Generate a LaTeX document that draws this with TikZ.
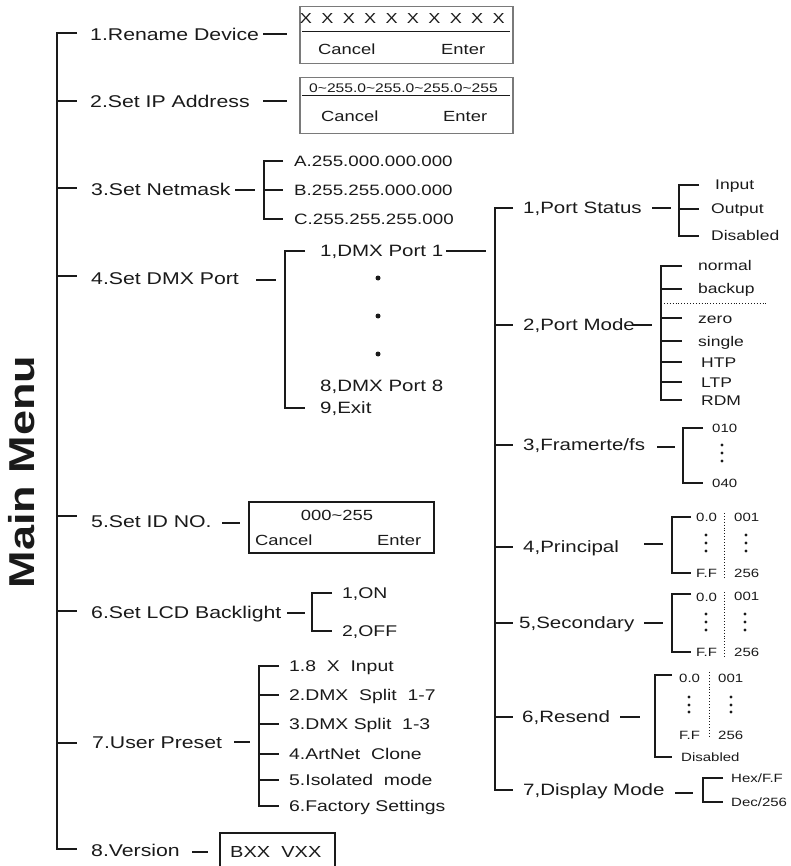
\documentclass[tikz,border=0pt]{standalone}
\usepackage{fontspec}
\setmainfont[FakeStretch=1.25]{Liberation Sans}
\usetikzlibrary{positioning,calc}
\definecolor{ink}{HTML}{1A1A1A}
\definecolor{frame}{HTML}{7A7A7A}
\tikzset{
  menu/.style={anchor=west,inner sep=0pt,text=ink,font=\fontsize{17}{20}\selectfont,text height=12.2pt,text depth=0pt},
  sub/.style={menu,font=\fontsize{16.4}{19}\selectfont,text height=11.7pt},
  opt/.style={menu,font=\fontsize{15.5}{18}\selectfont,text height=11.1pt},
  leaf/.style={menu,font=\fontsize{14}{17}\selectfont,text height=10pt},
  btext/.style={menu,font=\fontsize{14.7}{17}\selectfont,text height=10.5pt},
  tiny/.style={menu,font=\fontsize{12}{14}\selectfont,text height=8.6pt},
  xmark/.style={tiny,anchor=center,font=\fontsize{14.5}{17}\selectfont,text height=10.4pt},
  title/.style={inner sep=0pt,text=ink,font=\fontsize{36}{40}\selectfont\bfseries,text height=26pt,text depth=0pt},
  wire/.style={draw=ink,line width=1.8pt},
  lcd/.style={draw=frame,line width=1.5pt,inner sep=0pt,anchor=north west},
  lcdblack/.style={lcd,draw=ink},
  sepline/.style={draw=ink,line width=1pt},
  dotline/.style={draw=ink,line width=0.9pt,dotted},
  pip/.style={fill=ink}
}

\begin{document}
\begin{tikzpicture}[x=1pt,y=-1pt]
  \useasboundingbox (0,0) rectangle (791,866);

  \node[title,rotate=90] (title) at (21,472) {Main Menu};

  % main menu
  \node[menu] (m1) at (90,34) {1.Rename Device};
  \node[menu] (m2) at (90,101) {2.Set IP Address};
  \node[menu] (m3) at (91,189) {3.Set Netmask};
  \node[menu] (m4) at (91,278) {4.Set DMX Port};
  \node[menu] (m5) at (91,521) {5.Set ID NO.};
  \node[menu] (m6) at (91,612) {6.Set LCD Backlight};
  \node[menu] (m7) at (92,742) {7.User Preset};
  \node[menu] (m8) at (91,850) {8.Version};
  \draw[wire] (77,33) -- (57,33) -- (57,849) -- (77,849);
  \foreach \y in {101,188,276,516,611,743}
    \draw[wire] (57,\y) -- ++(20,0);

  % 1 rename
  \node[lcd,minimum width=213pt,minimum height=57pt] (b1) at (299,6) {};
  \draw[sepline] ([xshift=3pt,yshift=-26pt]b1.north west) -- ([xshift=-4pt,yshift=-26pt]b1.north east);
  \foreach \i in {0,...,9}
    \node[xmark] (x\i) at (306+21.4*\i,18) {X};
  \node[btext] (c1) at (318,49) {Cancel};
  \node[btext] (e1) at (441,49) {Enter};
  \draw[wire] (m1.west -| b1.west) ++(-36,0) -- ++(24,0);

  % 2 ip address
  \node[lcd,minimum width=213pt,minimum height=56pt] (b2) at (299,77) {};
  \draw[sepline] ([xshift=3pt,yshift=-19pt]b2.north west) -- ([xshift=-4pt,yshift=-19pt]b2.north east);
  \node[tiny,font=\fontsize{12.5}{14}\selectfont] (ip) at (309,88) {0\textasciitilde255.0\textasciitilde255.0\textasciitilde255.0\textasciitilde255};
  \node[btext] (c2) at (321,116) {Cancel};
  \node[btext] (e2) at (443,116) {Enter};
  \draw[wire] (m2.west -| b2.west) ++(-36,0) -- ++(24,0);

  % 3 netmask
  \node[opt,font=\fontsize{15}{18}\selectfont] (nA) at (294,161) {A.255.000.000.000};
  \node[opt,font=\fontsize{15}{18}\selectfont] (nB) at (294,190) {B.255.255.000.000};
  \node[opt,font=\fontsize{15}{18}\selectfont] (nC) at (294,219) {C.255.255.255.000};
  \coordinate (k0) at (264,0);
  \draw[wire] (nA.west -| k0) ++(19,0) -- ++(-19,0) -- (nC.west -| k0) -- ++(19,0);
  \draw[wire] (nB.west -| k0) -- ++(19,0);
  \draw[wire] (nB.west -| k0) ++(-29,0) -- ++(20,0);

  % 4 dmx port
  \node[sub] (d1) at (320,251) {1,DMX Port 1};
  \node[sub] (d8) at (320,386) {8,DMX Port 8};
  \node[sub] (d9) at (320,408) {9,Exit};
  \coordinate (kd) at (285,0);
  \draw[wire] (d1.west -| kd) ++(20,0) -- ++(-20,0) -- (d9.west -| kd) -- ++(20,0);
  \draw[wire] (m4.west -| kd) ++(-29,2) -- ++(20,0);
  \foreach \y in {278,316,354}
    \fill[pip] (378,\y) circle (2.5pt);

  % 5 id no
  \node[lcdblack,minimum width=185pt,minimum height=51pt] (b5) at (248,501) {};
  \node[btext,anchor=center] (id) at (337,515) {000\textasciitilde255};
  \node[btext] (c5) at (255,540) {Cancel};
  \node[btext] (e5) at (377,540) {Enter};
  \draw[wire] (m5.west -| b5.west) ++(-26,2) -- ++(18,0);

  % 6 backlight
  \node[opt] (o1) at (342,593) {1,ON};
  \node[opt] (o2) at (342,631) {2,OFF};
  \coordinate (kb) at (312,0);
  \draw[wire] (o1.west -| kb) ++(20,0) -- ++(-20,0) -- (o2.west -| kb) -- ++(20,0);
  \draw[wire] (m6.west -| kb) ++(-25,1) -- ++(18,0);

  % 7 user preset
  \node[opt] (u1) at (289,666) {1.8\ \ X\ \ Input};
  \node[opt] (u2) at (289,695) {2.DMX\ \ Split\ \ 1-7};
  \node[opt] (u3) at (289,724) {3.DMX Split\ \ 1-3};
  \node[opt] (u4) at (289,754) {4.ArtNet\ \ Clone};
  \node[opt] (u5) at (289,780) {5.Isolated\ \ mode};
  \node[opt] (u6) at (289,806) {6.Factory Settings};
  \coordinate (ku) at (259,0);
  \draw[wire] (u1.west -| ku) ++(20,0) -- ++(-20,0) -- (u6.west -| ku) -- ++(20,0);
  \foreach \n in {u2,u3,u4,u5}
    \draw[wire] (\n.west -| ku) -- ++(20,0);
  \draw[wire] (m7.west -| ku) ++(-25,0) -- ++(16,0);

  % 8 version
  \node[btext,font=\fontsize{16}{19}\selectfont,text height=11.5pt] (ver) at (230,852) {BXX\ \ VXX};
  \draw[lcdblack] (220,866) -- (220,833) -- (335,833) -- (335,866);
  \draw[wire] (m8.west) ++(101,2) -- ++(16,0);

  % port sub menu
  \node[sub] (p1) at (523,208) {1,Port\ Status};
  \node[sub] (p2) at (523,325) {2,Port\ Mode};
  \node[sub] (p3) at (523,445) {3,Framerte/fs};
  \node[sub] (p4) at (523,547) {4,Principal};
  \node[sub] (p5) at (519,623) {5,Secondary};
  \node[sub] (p6) at (522,717) {6,Resend};
  \node[sub] (p7) at (523,790) {7,Display Mode};
  \coordinate (rt) at (495,0);
  \draw[wire] (p1.west -| rt) ++(18,0) -- ++(-18,0) -- (p7.west -| rt) -- ++(18,0);
  \foreach \n in {p2,p3,p4,p5,p6}
    \draw[wire] (\n.west -| rt) -- ++(18,0);
  \draw[wire] (d1.west -| rt) ++(-49,0) -- ++(40,0);

  % port status
  \node[leaf] (s1) at (715,185) {Input};
  \node[leaf] (s2) at (711,209) {Output};
  \node[leaf] (s3) at (711,236) {Disabled};
  \coordinate (k1) at (679,0);
  \draw[wire] (s1.west -| k1) ++(20,0) -- ++(-20,0) -- (s3.west -| k1) -- ++(20,0);
  \draw[wire] (s2.west -| k1) -- ++(20,0);
  \draw[wire] (p1.west -| k1) ++(-27,0) -- ++(19,0);

  % port mode
  \node[leaf] (q1) at (698,266) {normal};
  \node[leaf] (q2) at (698,289) {backup};
  \node[leaf] (q3) at (698,318) {zero};
  \node[leaf] (q4) at (698,341) {single};
  \node[leaf] (q5) at (701,362) {HTP};
  \node[leaf] (q6) at (701,382) {LTP};
  \node[leaf] (q7) at (701,400) {RDM};
  \coordinate (k2) at (661,0);
  \draw[wire] (q1.west -| k2) ++(21,0) -- ++(-21,0) -- (q7.west -| k2) -- ++(21,0);
  \foreach \n in {q2,q3,q4,q5,q6}
    \draw[wire] (\n.west -| k2) -- ++(21,0);
  \draw[dotline] ($(q2.west -| k2)!0.5!(q3.west -| k2)$) -- ++(107,0);
  \draw[wire] (p2.west -| k2) ++(-29,0) -- ++(20,0);

  % framerate
  \node[tiny] (f1) at (712,428) {010};
  \node[tiny] (f2) at (712,483) {040};
  \coordinate (k3) at (683,0);
  \draw[wire] (f1.west -| k3) ++(20,0) -- ++(-20,0) -- (f2.west -| k3) -- ++(20,0);
  \foreach \y in {445,453,461}
    \fill[pip] (722,\y) circle (1.7pt);
  \draw[wire] (p3.west -| k3) ++(-26,2) -- ++(18,0);

  % principal
  \node[tiny] (r1) at (696,517) {0.0};
  \node[tiny] (r2) at (696,573) {F.F};
  \node[tiny] (r3) at (734,517) {001};
  \node[tiny] (r4) at (734,573) {256};
  \coordinate (k4) at (672,0);
  \draw[wire] (r1.west -| k4) ++(19,0) -- ++(-19,0) -- (r2.west -| k4) -- ++(19,0);
  \draw[dotline] (724,513) -- (724,577);
  \foreach \y in {535,543,551} {
    \fill[pip] (706,\y) circle (1.7pt);
    \fill[pip] (746,\y) circle (1.7pt);
  }
  \draw[wire] (p4.west -| k4) ++(-28,-3) -- ++(19,0);

  % secondary
  \node[tiny] (v1) at (696,597) {0.0};
  \node[tiny] (v2) at (696,652) {F.F};
  \node[tiny] (v3) at (734,596) {001};
  \node[tiny] (v4) at (734,652) {256};
  \coordinate (k5) at (672,0);
  \draw[wire] (v1.west -| k5) ++(19,-3) -- ++(-19,0) -- (v2.west -| k5) -- ++(19,0);
  \draw[dotline] (724,592) -- (724,657);
  \foreach \y in {614,622,630} {
    \fill[pip] (706,\y) circle (1.7pt);
    \fill[pip] (745,\y) circle (1.7pt);
  }
  \draw[wire] (p5.west -| k5) ++(-28,0) -- ++(19,0);

  % resend
  \node[tiny] (e1a) at (679,678) {0.0};
  \node[tiny] (e2a) at (679,735) {F.F};
  \node[tiny] (e3a) at (718,678) {001};
  \node[tiny] (e4a) at (718,735) {256};
  \node[tiny] (e5a) at (681,757) {Disabled};
  \coordinate (k6) at (655,0);
  \draw[wire] (e1a.west -| k6) ++(17,-3) -- ++(-17,0) -- (e5a.west -| k6) -- ++(17,0);
  \draw[dotline] (709,672) -- (709,738);
  \foreach \y in {697,705,712} {
    \fill[pip] (689,\y) circle (1.7pt);
    \fill[pip] (731,\y) circle (1.7pt);
  }
  \draw[wire] (p6.west -| k6) ++(-35,0) -- ++(20,0);

  % display mode
  \node[tiny] (h1) at (731,778) {Hex/F.F};
  \node[tiny] (h2) at (731,802) {Dec/256};
  \coordinate (k7) at (703,0);
  \draw[wire] (h1.west -| k7) ++(20,0) -- ++(-20,0) -- (h2.west -| k7) -- ++(20,0);
  \draw[wire] (p7.west -| k7) ++(-28,3) -- ++(18,0);
\end{tikzpicture}
\end{document}
